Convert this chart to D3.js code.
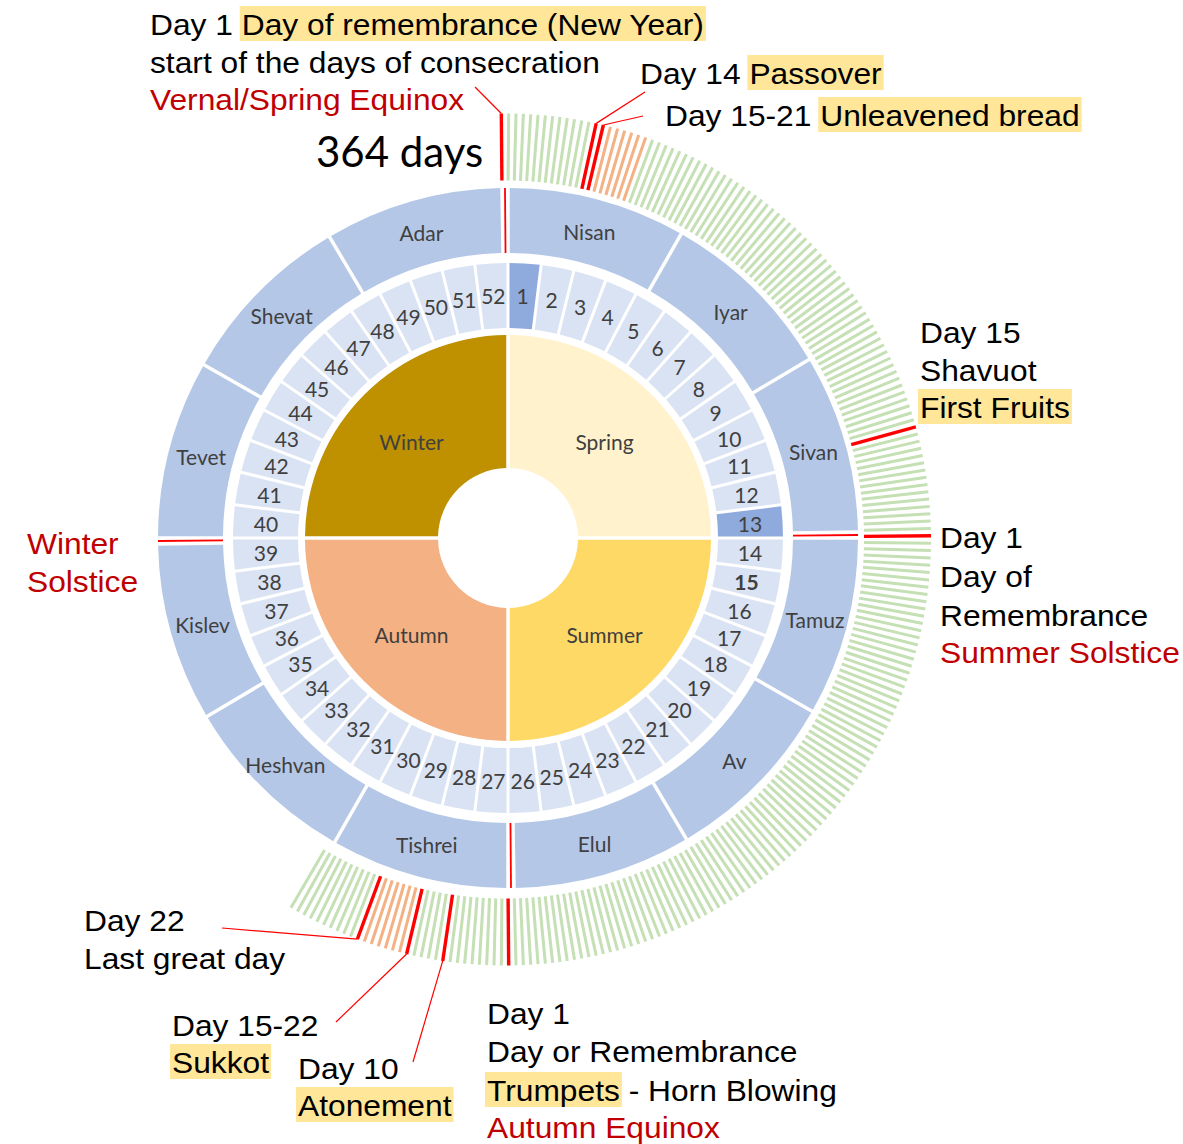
<!DOCTYPE html>
<html><head><meta charset="utf-8">
<script src="https://cdn.jsdelivr.net/npm/d3@7"></script>
<style>
body{margin:0;background:#fff}
svg text{white-space:pre}
</style>
</head><body>
<svg id="c" width="1183" height="1144"></svg>
<script>
// ---------------- DATA ----------------
const yearDays = 364;
const seasons = ["Spring","Summer","Autumn","Winter"];
const seasonDays = [91,91,91,91];
const seasonColors = ["#fff2cc","#ffd966","#f4b183","#bf9000"];

const weekLabels = ["1","2","3","4","5","6","7","8","9","10","11","12","13","14","15","16","17","18","19","20","21","22","23","24","25","26",
  "27","28","29","30","31","32","33","34","35","36","37","38","39","40","41","42","43","44","45","46","47","48","49","50","51","52"];
const daysPerWeek = 7;
const highlightedWeeks = ["1","13"];
const boldWeeks = ["15"];

const months = ["Nisan","Iyar","Sivan","Tamuz","Av","Elul","Tishrei","Heshvan","Kislev","Tevet","Shevat","Adar"];
const monthLengths = [30,30,30,30,30,30,30,30,30,30,30,30];
const quarterExtraDays = [1,1,1,1];   // the remembrance day opening each quarter

// day ring (slot index 0 = first day of the year)
const shownDays = 214;                 // slots 0..213 are drawn
const redDays = [0,13,14,76,91,182,191,196,203];
const orangeDays = [15,16,17,18,19,20,197,198,199,200,201,202];

const totalLabel = "364 days";

// annotations: [text, style]  n = normal, h = highlighted, r = red
const annotations = [
  {x:150, y:35,  parts:[["Day 1 ","n"],["Day of remembrance (New Year)","h"]]},
  {x:150, y:73,  parts:[["start of the days of consecration","n"]]},
  {x:150, y:110, parts:[["Vernal/Spring Equinox","r"]]},
  {x:640, y:84,  parts:[["Day 14 ","n"],["Passover","h"]]},
  {x:665, y:126, parts:[["Day 15-21 ","n"],["Unleavened bread","h"]]},
  {x:920, y:343, parts:[["Day 15","n"]]},
  {x:920, y:381, parts:[["Shavuot","n"]]},
  {x:920, y:418, parts:[["First Fruits","h"]]},
  {x:940, y:548, parts:[["Day 1","n"]]},
  {x:940, y:587, parts:[["Day of","n"]]},
  {x:940, y:626, parts:[["Remembrance","n"]]},
  {x:940, y:663, parts:[["Summer Solstice","r"]]},
  {x:27,  y:554, parts:[["Winter","r"]]},
  {x:27,  y:592, parts:[["Solstice","r"]]},
  {x:84,  y:931, parts:[["Day 22","n"]]},
  {x:84,  y:969, parts:[["Last great day","n"]]},
  {x:172, y:1036, parts:[["Day 15-22","n"]]},
  {x:172, y:1073, parts:[["Sukkot","h"]]},
  {x:298, y:1079, parts:[["Day 10","n"]]},
  {x:298, y:1116, parts:[["Atonement","h"]]},
  {x:487, y:1024, parts:[["Day 1","n"]]},
  {x:487, y:1062, parts:[["Day or Remembrance","n"]]},
  {x:487, y:1101, parts:[["Trumpets","h"],[" - Horn Blowing","n"]]},
  {x:487, y:1138, parts:[["Autumn Equinox","r"]]}
];
// leader lines: label anchor -> outer end of a day tick
const leaders = [
  {from:[475,87], day:0},
  {from:[645,92], day:13},
  {from:[643,116], day:14},
  {from:[222,928], day:203},
  {from:[336,1022], day:196},
  {from:[413,1062], day:191}
];

// ---------------- LAYOUT ----------------
const cx = 508, cy = 538;          // rings centre
const dayCx = 505, dayCy = 539.5;  // day ring centre
const R = {hole:70, seasonOut:203, weekIn:210, weekOut:275, monthIn:285, monthOut:350, dayIn:359, dayOut:426};
const labelFont = "Lato, 'Open Sans', sans-serif";
const grey = "#404040";

const ang = d3.scaleLinear().domain([0, yearDays]).range([0, 2*Math.PI]);

const svg = d3.select("#c");
const g = svg.append("g").attr("transform", `translate(${cx},${cy})`);

// Seasons
let acc = 0;
const seasonData = seasons.map((s,i)=>{
  const d = {name:s, color:seasonColors[i], a0:ang(acc), a1:ang(acc+seasonDays[i])};
  acc += seasonDays[i]; return d;
});
const seasonArc = d3.arc().innerRadius(R.hole).outerRadius(R.seasonOut)
  .startAngle(d=>d.a0).endAngle(d=>d.a1).padRadius(100).padAngle(0.035);
g.append("g").selectAll("path").data(seasonData).join("path")
  .attr("d", seasonArc).attr("fill", d=>d.color);
g.append("g").selectAll("text").data(seasonData).join("text")
  .attr("transform", d=>{const p=d3.pointRadial((d.a0+d.a1)/2,(R.hole+R.seasonOut)/2);return `translate(${p[0]},${p[1]})`;})
  .attr("text-anchor","middle").attr("dominant-baseline","central")
  .style("font-family",labelFont).style("font-size","21px").attr("fill",grey)
  .text(d=>d.name);

// Weeks
const weekData = weekLabels.map((w,i)=>({label:w, a0:ang(i*daysPerWeek), a1:ang((i+1)*daysPerWeek)}));
const weekArc = d3.arc().innerRadius(R.weekIn).outerRadius(R.weekOut)
  .startAngle(d=>d.a0).endAngle(d=>d.a1).padRadius(100).padAngle(0.03);
g.append("g").selectAll("path").data(weekData).join("path")
  .attr("d", weekArc).attr("fill", d=>highlightedWeeks.includes(d.label)?"#8faadc":"#dae3f3");
g.append("g").selectAll("text").data(weekData).join("text")
  .attr("transform", d=>{const p=d3.pointRadial((d.a0+d.a1)/2,(R.weekIn+R.weekOut)/2);return `translate(${p[0]},${p[1]})`;})
  .attr("text-anchor","middle").attr("dominant-baseline","central")
  .style("font-family",labelFont).style("font-size","21px")
  .style("font-weight", d=>boldWeeks.includes(d.label)?"bold":"normal").attr("fill",grey)
  .text(d=>d.label);

// Months (slot k occupies [k-1, k] on the scale)
const monthData = [], extraData = [];
let pos = 0;
quarterExtraDays.forEach((ex,q)=>{
  extraData.push({start:pos, len:ex});
  pos += ex;
  for (let j=0;j<3;j++){
    const m = q*3+j;
    monthData.push({name:months[m], a0:ang(pos-1), a1:ang(pos+monthLengths[m]-1)});
    pos += monthLengths[m];
  }
});
const monthArc = d3.arc().innerRadius(R.monthIn).outerRadius(R.monthOut)
  .startAngle(d=>d.a0).endAngle(d=>d.a1).padRadius(100).padAngle(0.035);
g.append("g").selectAll("path").data(monthData).join("path")
  .attr("d", monthArc).attr("fill","#b4c7e7");
g.append("g").selectAll("line").data(extraData).join("line")
  .each(function(d){
    const a = ang(d.start-0.5);
    const p0 = d3.pointRadial(a,R.monthIn), p1 = d3.pointRadial(a,R.monthOut);
    d3.select(this).attr("x1",p0[0]).attr("y1",p0[1]).attr("x2",p1[0]).attr("y2",p1[1]);
  })
  .attr("stroke","#ff0000").attr("stroke-width",1.8);
g.append("g").selectAll("text").data(monthData).join("text")
  .attr("transform", d=>{const p=d3.pointRadial((d.a0+d.a1)/2,(R.monthIn+R.monthOut)/2);return `translate(${p[0]},${p[1]})`;})
  .attr("text-anchor","middle").attr("dominant-baseline","central")
  .style("font-family",labelFont).style("font-size","21px").attr("fill",grey)
  .text(d=>d.name);

// Day ring
const dg = svg.append("g").attr("transform", `translate(${dayCx},${dayCy})`);
const dayData = d3.range(shownDays).map(k=>({
  k, type: redDays.includes(k) ? "r" : orangeDays.includes(k) ? "o" : "g"
}));
const dayColor = {g:"#c5e0b4", o:"#f4b183", r:"#ff0000"};
const order = {g:0,o:1,r:2};
dg.selectAll("line").data(dayData.sort((a,b)=>order[a.type]-order[b.type])).join("line")
  .each(function(d){
    const a = ang(d.k-0.5);
    const p0 = d3.pointRadial(a,R.dayIn), p1 = d3.pointRadial(a,R.dayOut);
    d3.select(this).attr("x1",p0[0]).attr("y1",p0[1]).attr("x2",p1[0]).attr("y2",p1[1]);
  })
  .attr("stroke", d=>dayColor[d.type]).attr("stroke-width", d=>d.type==="r"?3.4:3);

// Leader lines
svg.append("g").selectAll("line").data(leaders).join("line")
  .each(function(d){
    const p = d3.pointRadial(ang(d.day-0.5), R.dayOut);
    d3.select(this).attr("x1",d.from[0]).attr("y1",d.from[1]).attr("x2",dayCx+p[0]).attr("y2",dayCy+p[1]);
  })
  .attr("stroke","#ff0000").attr("stroke-width",1.2);

// Total label
svg.append("text").attr("x",316).attr("y",167)
  .style("font-family",labelFont).style("font-size","42px").attr("fill","#000")
  .text(totalLabel);

// Annotations
const sx = 1.095;
const annFont = "'Liberation Sans', Arial, sans-serif";
annotations.forEach(a=>{
  const ag = svg.append("g").attr("transform",`translate(${a.x},${a.y}) scale(${sx},1)`);
  const bgLayer = ag.append("g");
  const t = ag.append("text").attr("x",0).attr("y",0)
    .style("font-family",annFont).style("font-size","29px");
  const spans = a.parts.map(p=>t.append("tspan").text(p[0])
     .attr("fill", p[1]==="r" ? "#c00000" : "#000"));
  let off = 0;
  spans.forEach((s,i)=>{
    const w = s.node().getComputedTextLength();
    if (a.parts[i][1]==="h"){
      bgLayer.append("rect").attr("x",off-2/sx).attr("y",-29).attr("width",w+4/sx).attr("height",35)
        .attr("fill","#ffe699");
    }
    off += w;
  });
});
</script>
</body></html>
